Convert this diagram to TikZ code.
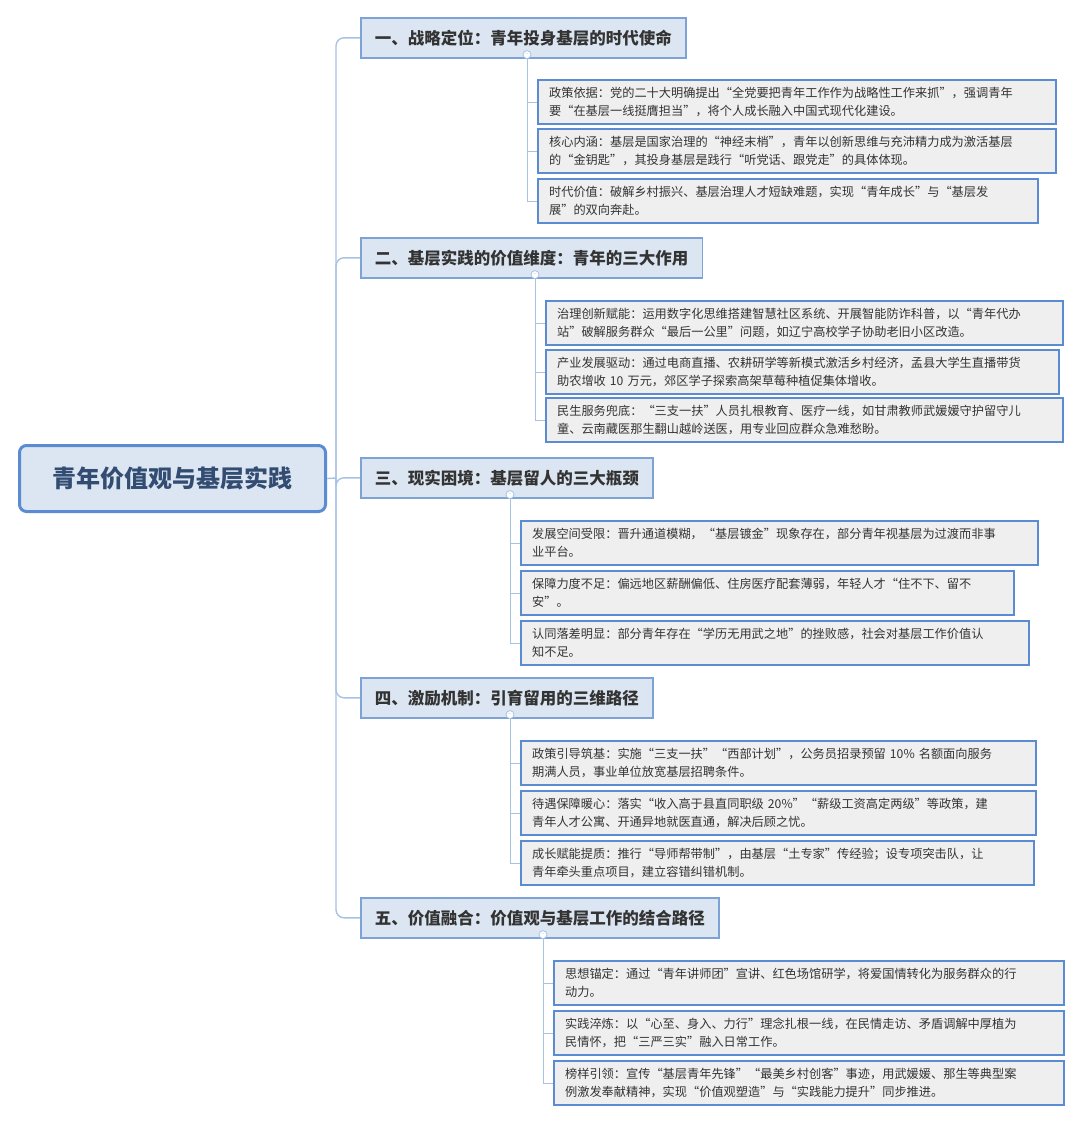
\documentclass[tikz,border=0pt]{standalone}
\usepackage{fontspec}
\setmainfont{Noto Sans CJK SC}
\newfontfamily\cjkb{Noto Sans CJK SC}[BoldFont={* Bold}]
\definecolor{rootfill}{HTML}{DCE6F2}
\definecolor{rootdraw}{HTML}{5B8BD0}
\definecolor{headfill}{HTML}{DCE6F2}
\definecolor{headdraw}{HTML}{7DA3D6}
\definecolor{leaffill}{HTML}{EFEFEF}
\definecolor{leafdraw}{HTML}{5B8BD0}
\definecolor{linec}{HTML}{A8C2E4}
\definecolor{txt}{HTML}{333333}
\begin{document}
\begin{tikzpicture}[x=1pt,y=-1pt,
 rootbox/.style={draw=rootdraw,line width=3pt,fill=rootfill,rounded corners=7pt,minimum width=306pt,minimum height=66pt,font=\fontsize{24}{28}\selectfont\bfseries,text=rootdraw!55!black,anchor=north west},
 headbox/.style={draw=headdraw,line width=1.6pt,fill=headfill,minimum height=40pt,inner xsep=14pt,font=\fontsize{16.5}{20}\selectfont\bfseries,text=txt,anchor=north west},
 leafbox/.style={draw=leafdraw,line width=2.2pt,fill=leaffill,minimum height=44pt,inner xsep=11pt,inner ysep=3pt,align=left,font=\fontsize{12.2}{18}\selectfont,text=txt,anchor=north west},
 conn/.style={draw=linec,line width=1.4pt},
 knob/.style={circle,draw=linec,fill=white,line width=0.8pt,minimum size=8pt,inner sep=0pt,font=\fontsize{6}{6}\selectfont,text=linec}]
\useasboundingbox (0,0) rectangle (1080,1122);
\node[rootbox] (root) at (18,444) {青年价值观与基层实践};
\coordinate (tr) at (336,478);
\node[headbox] (h1) at (360,17) {一、战略定位：青年投身基层的时代使命};
\node[headbox] (h2) at (360,237) {二、基层实践的价值维度：青年的三大作用};
\node[headbox] (h3) at (360,457) {三、现实困境：基层留人的三大瓶颈};
\node[headbox] (h4) at (360,677) {四、激励机制：引育留用的三维路径};
\node[headbox] (h5) at (360,897) {五、价值融合：价值观与基层工作的结合路径};
\draw[conn] (root.east) -- (tr);
\foreach \h in {h1,h2,h3,h4,h5}{\draw[conn,rounded corners=8pt] (tr) |- (\h.west);}
% group 1
\node[leafbox,text width=496pt] (a1) at (537,79) {政策依据：党的二十大明确提出“全党要把青年工作作为战略性工作来抓”，强调青年\\要“在基层一线挺膺担当”，将个人成长融入中国式现代化建设。};
\node[leafbox,text width=496pt] (a2) at (537,128) {核心内涵：基层是国家治理的“神经末梢”，青年以创新思维与充沛精力成为激活基层\\的“金钥匙”，其投身基层是践行“听党话、跟党走”的具体体现。};
\node[leafbox,text width=478pt] (a3) at (537,178) {时代价值：破解乡村振兴、基层治理人才短缺难题，实现“青年成长”与“基层发\\展”的双向奔赴。};
% group 2
\node[leafbox,text width=495pt] (b1) at (545,300) {治理创新赋能：运用数字化思维搭建智慧社区系统、开展智能防诈科普，以“青年代办\\站”破解服务群众“最后一公里”问题，如辽宁高校学子协助老旧小区改造。};
\node[leafbox,text width=491pt] (b2) at (545,349) {产业发展驱动：通过电商直播、农耕研学等新模式激活乡村经济，孟县大学生直播带货\\助农增收 10 万元，郊区学子探索高架草莓种植促集体增收。};
\node[leafbox,text width=495pt] (b3) at (545,397) {民生服务兜底：“三支一扶”人员扎根教育、医疗一线，如甘肃教师武媛媛守护留守儿\\童、云南藏医那生翻山越岭送医，用专业回应群众急难愁盼。};
% group 3
\node[leafbox,text width=495pt] (c1) at (520,520) {发展空间受限：晋升通道模糊，“基层镀金”现象存在，部分青年视基层为过渡而非事\\业平台。};
\node[leafbox,text width=471pt] (c2) at (520,570) {保障力度不足：偏远地区薪酬偏低、住房医疗配套薄弱，年轻人才“住不下、留不\\安”。};
\node[leafbox,text width=486pt] (c3) at (520,620) {认同落差明显：部分青年存在“学历无用武之地”的挫败感，社会对基层工作价值认\\知不足。};
% group 4
\node[leafbox,text width=493pt] (d1) at (520,740) {政策引导筑基：实施“三支一扶”“西部计划”，公务员招录预留 10\% 名额面向服务\\期满人员，事业单位放宽基层招聘条件。};
\node[leafbox,text width=493pt] (d2) at (520,790) {待遇保障暖心：落实“收入高于县直同职级 20\%”“薪级工资高定两级”等政策，建\\青年人才公寓、开通异地就医直通，解决后顾之忧。};
\node[leafbox,text width=491pt] (d3) at (520,840) {成长赋能提质：推行“导师帮带制”，由基层“土专家”传经验；设专项突击队，让\\青年牵头重点项目，建立容错纠错机制。};
% group 5
\node[leafbox,text width=488pt] (e1) at (553,960) {思想锚定：通过“青年讲师团”宣讲、红色场馆研学，将爱国情转化为服务群众的行\\动力。};
\node[leafbox,text width=488pt] (e2) at (553,1010) {实践淬炼：以“心至、身入、力行”理念扎根一线，在民情走访、矛盾调解中厚植为\\民情怀，把“三严三实”融入日常工作。};
\node[leafbox,text width=488pt] (e3) at (553,1060) {榜样引领：宣传“基层青年先锋”“最美乡村创客”事迹，用武媛媛、那生等典型案\\例激发奉献精神，实现“价值观塑造”与“实践能力提升”同步推进。};
% sub connectors
\foreach \hx/\h/\kids in {527/h1/{a1,a2,a3},535/h2/{b1,b2,b3},510/h3/{c1,c2,c3},510/h4/{d1,d2,d3},543/h5/{e1,e2,e3}}{
  \coordinate (k\h) at (\hx,0 |- \h.south);
  \foreach \c in \kids {\draw[conn,line width=1pt] ([yshift=4pt]k\h) |- (\c.west);}
  \node[knob] at ([yshift=4pt]k\h) {--};
}
\end{tikzpicture}
\end{document}
